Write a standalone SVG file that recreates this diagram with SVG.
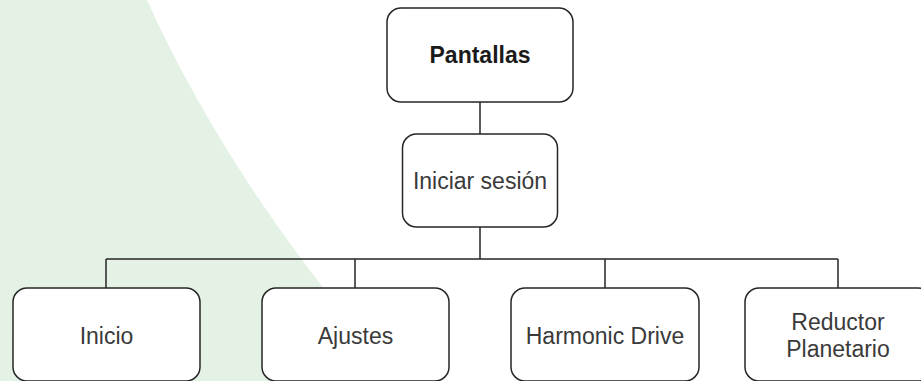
<svg xmlns="http://www.w3.org/2000/svg" width="921" height="381" viewBox="0 0 921 381">
<style>
.box{fill:#ffffff;stroke:#262626;stroke-width:1.5}
.t{font-family:"Liberation Sans",Arial,sans-serif;font-size:23px;fill:#3a3a3a;text-anchor:middle}
.b{font-weight:bold;fill:#1a1a1a}
.c{fill:none;stroke:#262626;stroke-width:1.5}
</style>
<rect width="921" height="381" fill="#ffffff"/>
<path d="M0,0 L147,0 Q233,190.5 400,381 L0,381 Z" fill="#e4f2e5"/>
<g id="connectors">
<path class="c" d="M480,102 V134 M480,227 V259 M106,259 H838 M106,259 V288 M355,259 V288 M605,259 V288 M838,259 V288"/>
</g>
<g id="pantallas">
<rect class="box" x="387" y="8" width="186" height="94" rx="14"/>
<text class="t b" x="480" y="63">Pantallas</text>
</g>
<g id="iniciar">
<rect class="box" x="402.5" y="134" width="155" height="93" rx="14"/>
<text class="t" x="480" y="189">Iniciar sesión</text>
</g>
<g id="inicio">
<rect class="box" x="13" y="288" width="187" height="93" rx="14"/>
<text class="t" x="106.5" y="344">Inicio</text>
</g>
<g id="ajustes">
<rect class="box" x="262" y="288" width="187" height="93" rx="14"/>
<text class="t" x="355.5" y="344">Ajustes</text>
</g>
<g id="harmonic">
<rect class="box" x="511" y="288" width="188" height="93" rx="14"/>
<text class="t" x="605" y="344">Harmonic Drive</text>
</g>
<g id="reductor">
<rect class="box" x="745" y="288" width="187" height="93" rx="14"/>
<text class="t" x="838" y="330">Reductor</text>
<text class="t" x="838" y="357">Planetario</text>
</g>
</svg>
